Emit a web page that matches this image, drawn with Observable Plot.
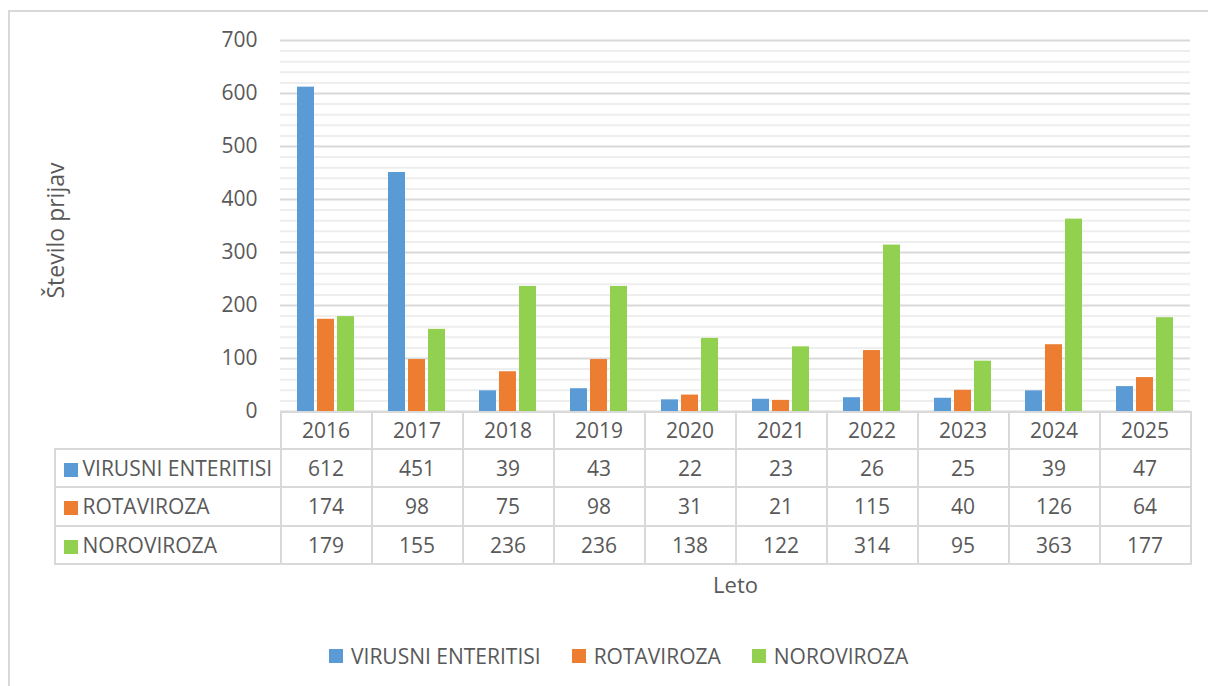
<!DOCTYPE html>
<html><head><meta charset="utf-8">
<script src="https://cdn.jsdelivr.net/npm/d3@7"></script>
<script src="https://cdn.jsdelivr.net/npm/@observablehq/plot@0.6"></script>
<style>
body{margin:0;background:#fff;font-family:"Open Sans",sans-serif;color:#595959;}
#wrap{position:relative;width:1208px;height:686px;overflow:hidden;background:#fff;}
#frame{position:absolute;left:8px;top:10px;width:1400px;height:900px;border:2px solid #d9d9d9;box-sizing:border-box;}
#table{position:absolute;left:53.5px;top:410.5px;border-collapse:collapse;table-layout:fixed;font-size:21px;width:1137px;}
#table td{border:2px solid #d9d9d9;padding:0;text-align:center;white-space:nowrap;overflow:hidden;}
#table td.lab{text-align:left;padding-left:8px;}
#table td.blank{border:none;}
.sq{display:inline-block;width:14px;height:14px;margin-right:5px;vertical-align:-1px;}
#legend{position:absolute;left:329px;top:642px;display:flex;gap:31px;font-size:21px;line-height:28px;white-space:nowrap;}
#legend span.item{display:flex;align-items:center;}
#legend .sq{margin-right:8px;vertical-align:middle;}
#chart{position:absolute;left:0;top:0;}
</style>
</head><body>
<div id="wrap">
  <div id="frame"></div>
  <table id="table"></table>
  <div id="chart"></div>
  <div id="legend"></div>
</div>
<script>
// ---- data ----
const years = ["2016","2017","2018","2019","2020","2021","2022","2023","2024","2025"];
const seriesNames = ["VIRUSNI ENTERITISI","ROTAVIROZA","NOROVIROZA"];
const seriesColors = ["#5B9BD5","#ED7D31","#92D050"];
const virusniEnteritisi = [612,451,39,43,22,23,26,25,39,47];
const rotaviroza = [174,98,75,98,31,21,115,40,126,64];
const noroviroza = [179,155,236,236,138,122,314,95,363,177];
const yTicks = [0,100,200,300,400,500,600,700];
const yMinorTicks = d3.range(0,701,20).filter(v => v % 100 !== 0);
const yTitle = "Število prijav";
const xTitle = "Leto";

const seriesValues = [virusniEnteritisi, rotaviroza, noroviroza];
const barWidth = 17, barStep = 20, bandWidth = 91;

const marks = [
  Plot.ruleY(yMinorTicks, {stroke:"#eeeeee", strokeWidth:2}),
  Plot.ruleY(yTicks, {stroke:"#d9d9d9", strokeWidth:2}),
];
seriesValues.forEach((vals, i) => {
  const rows = years.map((y, j) => ({year: y, value: vals[j], series: seriesNames[i]}));
  marks.push(Plot.barY(rows, {
    x: "year", y: "value", fill: seriesColors[i],
    insetLeft: (bandWidth - barWidth) / 2, insetRight: (bandWidth - barWidth) / 2,
    dx: (i - 1) * barStep
  }));
});
marks.push(
  Plot.axisY({ticks: yTicks, tickSize: 0, tickPadding: 23, fontSize: 21, label: null}),
  Plot.axisX({tickSize: 0, tickPadding: 12, fontSize: 21, label: null}),
  Plot.text([yTitle], {text: d => d, frameAnchor: "left", textAnchor: "middle", lineAnchor: "middle", dx: -224, dy: 4.5, rotate: -90, fontSize: 23, fill: "#595959"}),
  Plot.text([xTitle], {text: d => d, frameAnchor: "bottom", lineAnchor: "middle", dy: 174, fontSize: 22, fill: "#595959"})
);

const chart = Plot.plot({
  width: 1208, height: 686,
  marginLeft: 280, marginRight: 18, marginTop: 40, marginBottom: 275,
  x: {type: "band", domain: years, padding: 0},
  y: {domain: [0, 700]},
  style: {fontFamily: "Open Sans", fontSize: "21px", color: "#595959", background: "transparent", overflow: "visible"},
  marks
});
document.getElementById("chart").appendChild(chart);

// ---- data table ----
const table = document.getElementById("table");
const cg = document.createElement("colgroup");
cg.innerHTML = `<col style="width:226px">` + years.map(() => `<col style="width:91px">`).join("");
table.appendChild(cg);
const head = document.createElement("tr");
head.style.height = "37px";
head.innerHTML = `<td class="blank"></td>` + years.map(() => `<td></td>`).join("");
table.appendChild(head);
seriesNames.forEach((name, i) => {
  const tr = document.createElement("tr");
  tr.style.height = "38.5px";
  tr.innerHTML = `<td class="lab"><span class="sq" style="background:${seriesColors[i]}"></span>${name}</td>` +
    seriesValues[i].map(v => `<td>${v}</td>`).join("");
  table.appendChild(tr);
});

// ---- legend ----
const legend = document.getElementById("legend");
seriesNames.forEach((name, i) => {
  const s = document.createElement("span");
  s.className = "item";
  s.innerHTML = `<span class="sq" style="background:${seriesColors[i]}"></span>${name}`;
  legend.appendChild(s);
});
</script>
</body></html>
